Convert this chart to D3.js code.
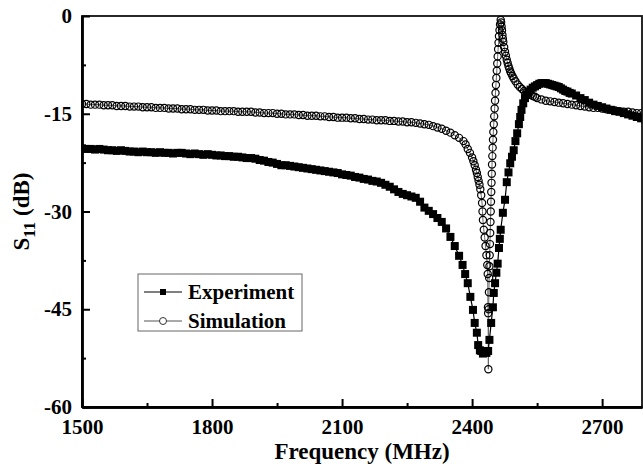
<!DOCTYPE html>
<html>
<head>
<meta charset="utf-8">
<script src="https://cdnjs.cloudflare.com/ajax/libs/d3/7.8.5/d3.min.js"></script>
<style>
body { margin: 0; background: #fff; }
text { font-family: "Liberation Serif", "Times New Roman", serif; font-weight: bold; fill: #000; }
</style>
</head>
<body>
<div id="chart"></div>
<script>
var svgWidth = 643;
var svgHeight = 464;

var margin = {
	top: 16,
	right: 1,
	bottom: 57,
	left: 82
}

var width = svgWidth - margin.left - margin.right;
var height = svgHeight - margin.top - margin.bottom;

// tick values
var xTicks = [1500, 1800, 2100, 2400, 2700];
var xMinorTicks = [1650, 1950, 2250, 2550];
var yTicks = [0, -15, -30, -45, -60];
var yMinorTicks = [-7.5, -22.5, -37.5, -52.5];

// measured S11, [MHz, dB]
var experiment = [
	[1500,-20.3],[1510,-20.4],[1520,-20.4],[1530,-20.5],[1540,-20.4],[1550,-20.5],[1560,-20.6],[1570,-20.6],
	[1580,-20.7],[1590,-20.6],[1600,-20.7],[1610,-20.8],[1620,-20.8],[1630,-20.9],[1640,-20.8],[1650,-20.9],
	[1660,-20.9],[1670,-21.0],[1680,-20.9],[1690,-21.0],[1700,-21.0],[1710,-21.1],[1720,-21.0],[1730,-21.0],
	[1740,-21.1],[1750,-21.2],[1760,-21.1],[1770,-21.2],[1780,-21.3],[1790,-21.2],[1800,-21.3],[1810,-21.4],
	[1820,-21.4],[1830,-21.5],[1840,-21.5],[1850,-21.6],[1860,-21.6],[1870,-21.7],[1880,-21.8],[1890,-21.8],
	[1900,-21.9],[1910,-22.1],[1920,-22.2],[1930,-22.4],[1940,-22.5],[1950,-22.7],[1960,-22.9],[1970,-22.9],
	[1980,-23.0],[1990,-23.1],[2000,-23.2],[2010,-23.3],[2020,-23.4],[2030,-23.5],[2040,-23.6],[2050,-23.7],
	[2060,-23.8],[2070,-23.9],[2080,-24.0],[2090,-24.1],[2100,-24.3],[2110,-24.4],[2120,-24.5],[2130,-24.7],
	[2140,-24.8],[2150,-25.0],[2160,-25.1],[2170,-25.3],[2180,-25.4],[2190,-25.6],[2200,-25.9],[2210,-26.2],
	[2220,-26.6],[2230,-27.0],[2240,-27.3],[2250,-27.5],[2260,-27.7],[2270,-27.9],[2280,-28.5],[2290,-29.4],
	[2300,-29.9],[2310,-30.4],[2320,-31.0],[2330,-31.6],[2340,-32.6],[2350,-33.9],[2360,-35.3],[2370,-36.8],
	[2378,-38.2],[2384,-39.6],[2390,-41.0],[2396,-43.1],[2402,-45.1],[2406,-47.1],[2411,-48.6],[2414,-50.5],
	[2418,-51.3],[2421,-51.4],[2425,-51.8],[2429,-51.5],[2433,-51.7],[2437,-51.4],[2440,-49.7],[2444,-47.1],
	[2448,-44.7],[2450,-42.5],[2453,-41.0],[2456,-39.4],[2459,-38.0],[2462,-35.6],[2464,-34.2],[2466,-32.8],
	[2471,-30.2],[2476,-28.2],[2480,-25.5],[2484,-24.0],[2488,-22.6],[2492,-21.6],[2496,-20.6],[2500,-19.2],
	[2504,-18.0],[2508,-16.6],[2511,-15.5],[2514,-14.4],[2518,-13.4],[2522,-12.6],[2526,-12.1],[2530,-11.7],
	[2535,-11.3],[2540,-11.0],[2545,-10.8],[2550,-10.6],[2555,-10.4],[2560,-10.3],[2565,-10.3],[2570,-10.3],
	[2575,-10.4],[2580,-10.5],[2585,-10.6],[2590,-10.7],[2595,-10.8],[2600,-10.9],[2605,-11.1],[2610,-11.3],
	[2615,-11.5],[2620,-11.6],[2625,-11.8],[2630,-11.9],[2640,-12.2],[2650,-12.6],[2660,-12.9],[2670,-13.3],
	[2680,-13.6],[2690,-13.8],[2700,-14.0],[2710,-14.2],[2720,-14.4],[2730,-14.6],[2740,-14.7],[2750,-14.9],
	[2760,-15.1],[2770,-15.3],[2780,-15.5],[2790,-15.7],[2800,-15.9]
];

// simulated S11, [MHz, dB]
var simulation = [
	[1500,-13.5],[1510,-13.5],[1520,-13.6],[1530,-13.6],[1540,-13.6],[1550,-13.7],[1560,-13.7],[1570,-13.7],
	[1580,-13.8],[1590,-13.8],[1600,-13.8],[1610,-13.9],[1620,-13.9],[1630,-13.9],[1640,-14.0],[1650,-14.0],
	[1660,-14.0],[1670,-14.1],[1680,-14.1],[1690,-14.1],[1700,-14.2],[1710,-14.2],[1720,-14.2],[1730,-14.3],
	[1740,-14.3],[1750,-14.3],[1760,-14.4],[1770,-14.4],[1780,-14.4],[1790,-14.5],[1800,-14.5],[1810,-14.5],
	[1820,-14.6],[1830,-14.6],[1840,-14.6],[1850,-14.6],[1860,-14.7],[1870,-14.7],[1880,-14.7],[1890,-14.7],
	[1900,-14.8],[1910,-14.8],[1920,-14.9],[1930,-14.9],[1940,-14.9],[1950,-15.0],[1960,-15.0],[1970,-15.1],
	[1980,-15.1],[1990,-15.1],[2000,-15.2],[2010,-15.2],[2020,-15.3],[2030,-15.3],[2040,-15.3],[2050,-15.4],
	[2060,-15.4],[2070,-15.5],[2080,-15.5],[2090,-15.6],[2100,-15.6],[2110,-15.6],[2120,-15.7],[2130,-15.7],
	[2140,-15.8],[2150,-15.8],[2160,-15.9],[2170,-15.9],[2180,-16.0],[2190,-16.0],[2200,-16.0],[2210,-16.1],
	[2220,-16.1],[2230,-16.2],[2240,-16.2],[2250,-16.3],[2260,-16.3],[2270,-16.4],[2280,-16.5],[2290,-16.6],
	[2300,-16.7],[2310,-16.9],[2320,-17.1],[2330,-17.3],[2340,-17.6],[2350,-17.9],[2360,-18.3],[2370,-18.7],
	[2380,-19.2],[2385,-19.7],[2390,-20.4],[2395,-21.0],[2400,-21.7],[2403,-22.3],[2406,-22.9],[2409,-23.6],
	[2411,-24.1],[2413,-24.7],[2415,-25.3],[2417,-25.9],[2419,-26.6],[2421,-27.5],[2423,-28.7],[2424,-30.0],
	[2425,-31.3],[2427,-32.8],[2429,-34.0],[2431,-35.3],[2433,-36.7],[2435,-38.2],[2436,-39.6],[2436.5,-44.7],
	[2437,-45.6],[2437.5,-54.2],[2438.2,-45.0],[2438.8,-42.4],[2439.4,-40.2],[2440,-38.4],[2440.6,-36.7],
	[2441.2,-35.0],[2441.8,-33.3],[2442.4,-31.6],[2443,-30.0],[2443.6,-28.5],[2444.2,-27.0],[2444.8,-25.6],
	[2445.4,-24.2],[2446,-22.8],[2446.7,-21.5],[2447.4,-20.2],[2448.2,-19.0],[2449,-17.8],[2450,-16.6],
	[2451,-15.4],[2452,-14.2],[2453,-13.0],[2454,-11.8],[2455,-10.6],[2456,-9.5],[2457,-8.4],[2458,-7.3],
	[2459,-6.2],[2460,-5.1],[2461,-4.1],[2462,-3.1],[2463.2,-2.2],[2464.5,-1.3],[2466,-0.6],[2467,-1.0],
	[2468,-1.6],[2469,-2.2],[2470,-2.9],[2471,-3.5],[2472,-4.0],[2474,-4.8],[2476,-5.5],[2478,-6.1],
	[2480,-6.7],[2482,-7.2],[2484,-7.7],[2486,-8.1],[2488,-8.5],[2490,-8.8],[2493,-9.2],[2496,-9.6],
	[2500,-10.0],[2505,-10.5],[2510,-10.9],[2515,-11.2],[2520,-11.5],[2525,-11.7],[2530,-11.9],[2535,-12.1],
	[2540,-12.3],[2545,-12.4],[2550,-12.6],[2560,-12.8],[2570,-13.0],[2580,-13.1],[2590,-13.2],[2600,-13.3],
	[2610,-13.4],[2620,-13.5],[2630,-13.6],[2640,-13.7],[2650,-13.8],[2660,-13.9],[2670,-14.0],[2680,-14.1],
	[2690,-14.1],[2700,-14.2],[2710,-14.3],[2720,-14.4],[2730,-14.5],[2740,-14.6],[2750,-14.7],[2760,-14.7],
	[2770,-14.8],[2780,-14.9],[2790,-14.9],[2800,-15.0]
];

var svg = d3.select("#chart")
	.append("svg")
	.attr("width", svgWidth)
	.attr("height", svgHeight);

var chartGroup = svg.append("g")
	.attr("transform", `translate(${margin.left}, ${margin.top})`);

var xLinearScale = d3.scaleLinear()
	.domain([1500, 2792])
	.range([0, width]);

var yLinearScale = d3.scaleLinear()
	.domain([-60, 0])
	.range([height, 0]);

chartGroup.append("clipPath")
	.attr("id", "plotClip")
	.append("rect")
	.attr("x", 0)
	.attr("y", -6)
	.attr("width", width)
	.attr("height", height + 6);

// frame
chartGroup.append("rect")
	.attr("x", 0)
	.attr("y", 0)
	.attr("width", width)
	.attr("height", height)
	.attr("fill", "none")
	.attr("stroke", "#111")
	.attr("stroke-width", 1.8);

var line = d3.line()
	.x(d => xLinearScale(d[0]))
	.y(d => yLinearScale(d[1]));

var plot = chartGroup.append("g")
	.attr("clip-path", "url(#plotClip)");

// simulation: open circles
plot.append("path")
	.datum(simulation)
	.attr("d", line)
	.attr("fill", "none")
	.attr("stroke", "#666")
	.attr("stroke-width", 1);

plot.selectAll("circle.sim")
	.data(simulation)
	.enter()
	.append("circle")
	.attr("class", "sim")
	.attr("cx", d => xLinearScale(d[0]))
	.attr("cy", d => yLinearScale(d[1]))
	.attr("r", 3.6)
	.attr("fill", "none")
	.attr("stroke", "#000")
	.attr("stroke-width", 1.2);

// experiment: filled squares
plot.append("path")
	.datum(experiment)
	.attr("d", line)
	.attr("fill", "none")
	.attr("stroke", "#000")
	.attr("stroke-width", 1.2);

plot.selectAll("rect.exp")
	.data(experiment)
	.enter()
	.append("rect")
	.attr("class", "exp")
	.attr("x", d => xLinearScale(d[0]) - 4)
	.attr("y", d => yLinearScale(d[1]) - 4)
	.attr("width", 8)
	.attr("height", 8)
	.attr("fill", "#000");

// axes, ticks pointing inward
var tickText = d => String(d);

var bottomAxis = d3.axisBottom(xLinearScale)
	.tickValues(xTicks)
	.tickSizeInner(-8)
	.tickSizeOuter(0)
	.tickPadding(12)
	.tickFormat(tickText);

var leftAxis = d3.axisLeft(yLinearScale)
	.tickValues(yTicks)
	.tickSizeInner(-8)
	.tickSizeOuter(0)
	.tickPadding(10)
	.tickFormat(tickText);

var xAxis = chartGroup.append("g")
	.attr("transform", `translate(0, ${height})`)
	.call(bottomAxis);

chartGroup.append("g")
	.attr("transform", `translate(0, ${height})`)
	.call(d3.axisBottom(xLinearScale).tickValues(xMinorTicks).tickSizeInner(-4).tickSizeOuter(0).tickFormat(""));

var yAxis = chartGroup.append("g")
	.call(leftAxis);

chartGroup.append("g")
	.call(d3.axisLeft(yLinearScale).tickValues(yMinorTicks).tickSizeInner(-4).tickSizeOuter(0).tickFormat(""));

chartGroup.selectAll(".domain")
	.attr("stroke", "#000")
	.attr("stroke-width", 2.4);
chartGroup.selectAll(".tick line")
	.attr("stroke", "#000")
	.attr("stroke-width", 2);
chartGroup.selectAll(".tick text")
	.style("font-size", "21px")
	.style("font-family", "'Liberation Serif', serif")
	.style("font-weight", "bold")
	.attr("fill", "#000");

// axis titles
chartGroup.append("text")
	.attr("x", width / 2)
	.attr("y", height + 52)
	.attr("text-anchor", "middle")
	.style("font-size", "23px")
	.text("Frequency (MHz)");

var yTitle = chartGroup.append("text")
	.attr("transform", "rotate(-90)")
	.attr("x", 0 - (height / 2))
	.attr("y", 0 - margin.left + 29)
	.attr("text-anchor", "middle")
	.style("font-size", "23px");
yTitle.append("tspan").text("S");
yTitle.append("tspan").attr("dy", 6).style("font-size", "17px").text("11");
yTitle.append("tspan").attr("dy", -6).text(" (dB)");

// legend
var legendGroup = svg.append("g")
	.attr("transform", "translate(138, 274)");

legendGroup.append("rect")
	.attr("width", 164)
	.attr("height", 57)
	.attr("fill", "#fff")
	.attr("stroke", "#666")
	.attr("stroke-width", 1);

var legendItems = [
	{label: "Experiment", y: 18},
	{label: "Simulation", y: 47}
];

legendItems.forEach(function(item, i) {
	legendGroup.append("line")
		.attr("x1", 6)
		.attr("x2", 44)
		.attr("y1", item.y)
		.attr("y2", item.y)
		.attr("stroke", i === 0 ? "#000" : "#555")
		.attr("stroke-width", 1);
	if (i === 0) {
		legendGroup.append("rect")
			.attr("x", 22)
			.attr("y", item.y - 3)
			.attr("width", 6)
			.attr("height", 6)
			.attr("fill", "#000");
	}
	else {
		legendGroup.append("circle")
			.attr("cx", 25)
			.attr("cy", item.y)
			.attr("r", 3.5)
			.attr("fill", "#fff")
			.attr("stroke", "#333");
	}
	legendGroup.append("text")
		.attr("x", 50)
		.attr("y", item.y + 7)
		.style("font-size", "21px")
		.text(item.label);
});
</script>
</body>
</html>
